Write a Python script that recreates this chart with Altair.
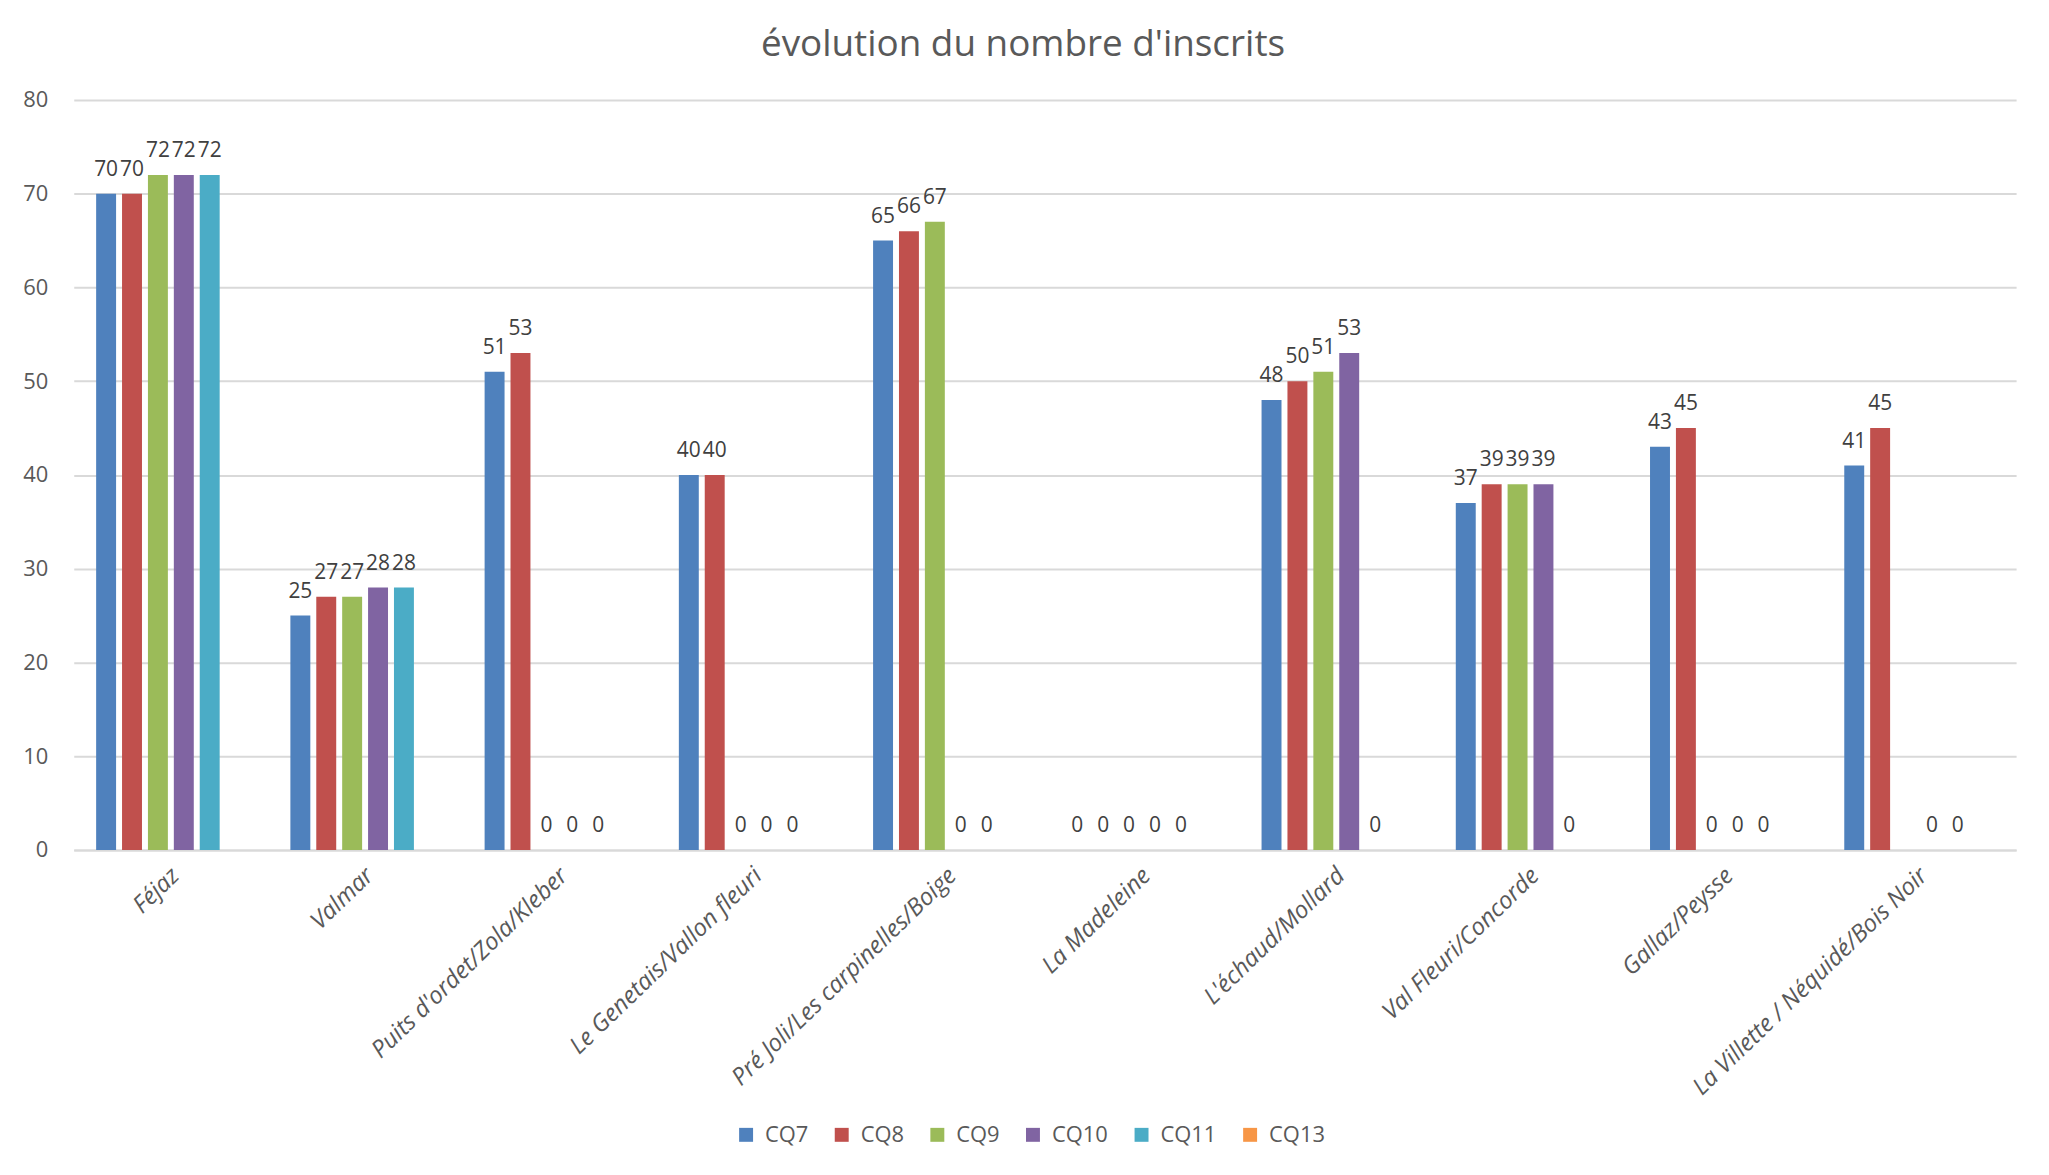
import altair as alt
import pandas as pd

categories = [
    "Féjaz",
    "Valmar",
    "Puits d'ordet/Zola/Kleber",
    "Le Genetais/Vallon fleuri",
    "Pré Joli/Les carpinelles/Boige",
    "La Madeleine",
    "L'échaud/Mollard",
    "Val Fleuri/Concorde",
    "Gallaz/Peysse",
    "La Villette / Néquidé/Bois Noir",
]
series_names = ["CQ7", "CQ8", "CQ9", "CQ10", "CQ11", "CQ13"]
cq7 = [70, 25, 51, 40, 65, 0, 48, 37, 43, 41]
cq8 = [70, 27, 53, 40, 66, 0, 50, 39, 45, 45]
cq9 = [72, 27, 0, 0, 67, 0, 51, 39, 0, None]
cq10 = [72, 28, 0, 0, 0, 0, 53, 39, 0, 0]
cq11 = [72, 28, 0, 0, 0, 0, 0, 0, 0, 0]
cq13 = [None, None, None, None, None, None, None, None, None, None]
colors = ["#4F81BD", "#C0504D", "#9BBB59", "#8064A2", "#4BACC6", "#F79646"]

series_values = [cq7, cq8, cq9, cq10, cq11, cq13]
rows = []
for name, vals in zip(series_names, series_values):
    for cat, v in zip(categories, vals):
        if v is not None:
            rows.append({"quartier": cat, "serie": name, "valeur": v})
df = pd.DataFrame(rows)

FONT = "Open Sans"
GREY = "#595959"

x_enc = alt.X(
    "quartier:N",
    sort=categories,
    scale=alt.Scale(domain=categories, paddingInner=0.2, paddingOuter=0.1),
    axis=alt.Axis(
        title=None,
        labelAngle=-44,
        labelAlign="right",
        labelBaseline="middle",
        labelPadding=22,
        labelOffset=5,
        labelFont=FONT,
        labelFontSize=24,
        labelFontStyle="italic",
        labelColor=GREY,
        labelLimit=600,
        ticks=False,
        domain=True,
        domainColor="#D9D9D9",
        domainWidth=2,
        grid=False,
    ),
)
xoff_enc = alt.XOffset(
    "serie:N",
    scale=alt.Scale(domain=series_names, paddingInner=0.23, paddingOuter=0.115),
)
y_enc = alt.Y(
    "valeur:Q",
    scale=alt.Scale(domain=[0, 80], nice=False),
    axis=alt.Axis(
        title=None,
        values=[0, 10, 20, 30, 40, 50, 60, 70, 80],
        labelFont=FONT,
        labelFontSize=22,
        labelColor=GREY,
        labelPadding=26,
        ticks=False,
        domain=False,
        grid=True,
        gridColor="#D9D9D9",
        gridWidth=2,
    ),
)
color_enc = alt.Color(
    "serie:N",
    scale=alt.Scale(domain=series_names, range=colors),
    legend=alt.Legend(
        title=None,
        orient="none",
        legendX=664,
        legendY=1028,
        direction="horizontal",
        symbolType="square",
        symbolSize=196,
        symbolStrokeWidth=0,
        labelFont=FONT,
        labelFontSize=22,
        labelColor=GREY,
        labelOffset=8,
        columnPadding=22,
        padding=0,
    ),
)

base = alt.Chart(df)
bars = base.mark_bar().encode(x=x_enc, xOffset=xoff_enc, y=y_enc, color=color_enc)
labels = base.mark_text(
    font=FONT, fontSize=21, color="#404040", baseline="alphabetic", align="center", dy=-18
).encode(
    x=alt.X("quartier:N", sort=categories),
    xOffset=alt.XOffset("serie:N"),
    y=alt.Y("valeur:Q"),
    text=alt.Text("valeur:Q"),
)

chart = (
    alt.layer(bars, labels)
    .properties(
        width=1950,
        height=753,
        padding={"left": 66, "top": 90, "right": 25, "bottom": 310},
        autosize="none",
        title=alt.TitleParams(
            text="évolution du nombre d'inscrits",
            font=FONT,
            fontSize=37,
            fontWeight="normal",
            color=GREY,
            anchor="middle",
            baseline="alphabetic",
            offset=43,
            dx=-22,
            dy=47,
        ),
    )
    .configure_view(strokeWidth=0)
)

chart.save("out.html", embed_options={"renderer": "svg", "actions": False})
